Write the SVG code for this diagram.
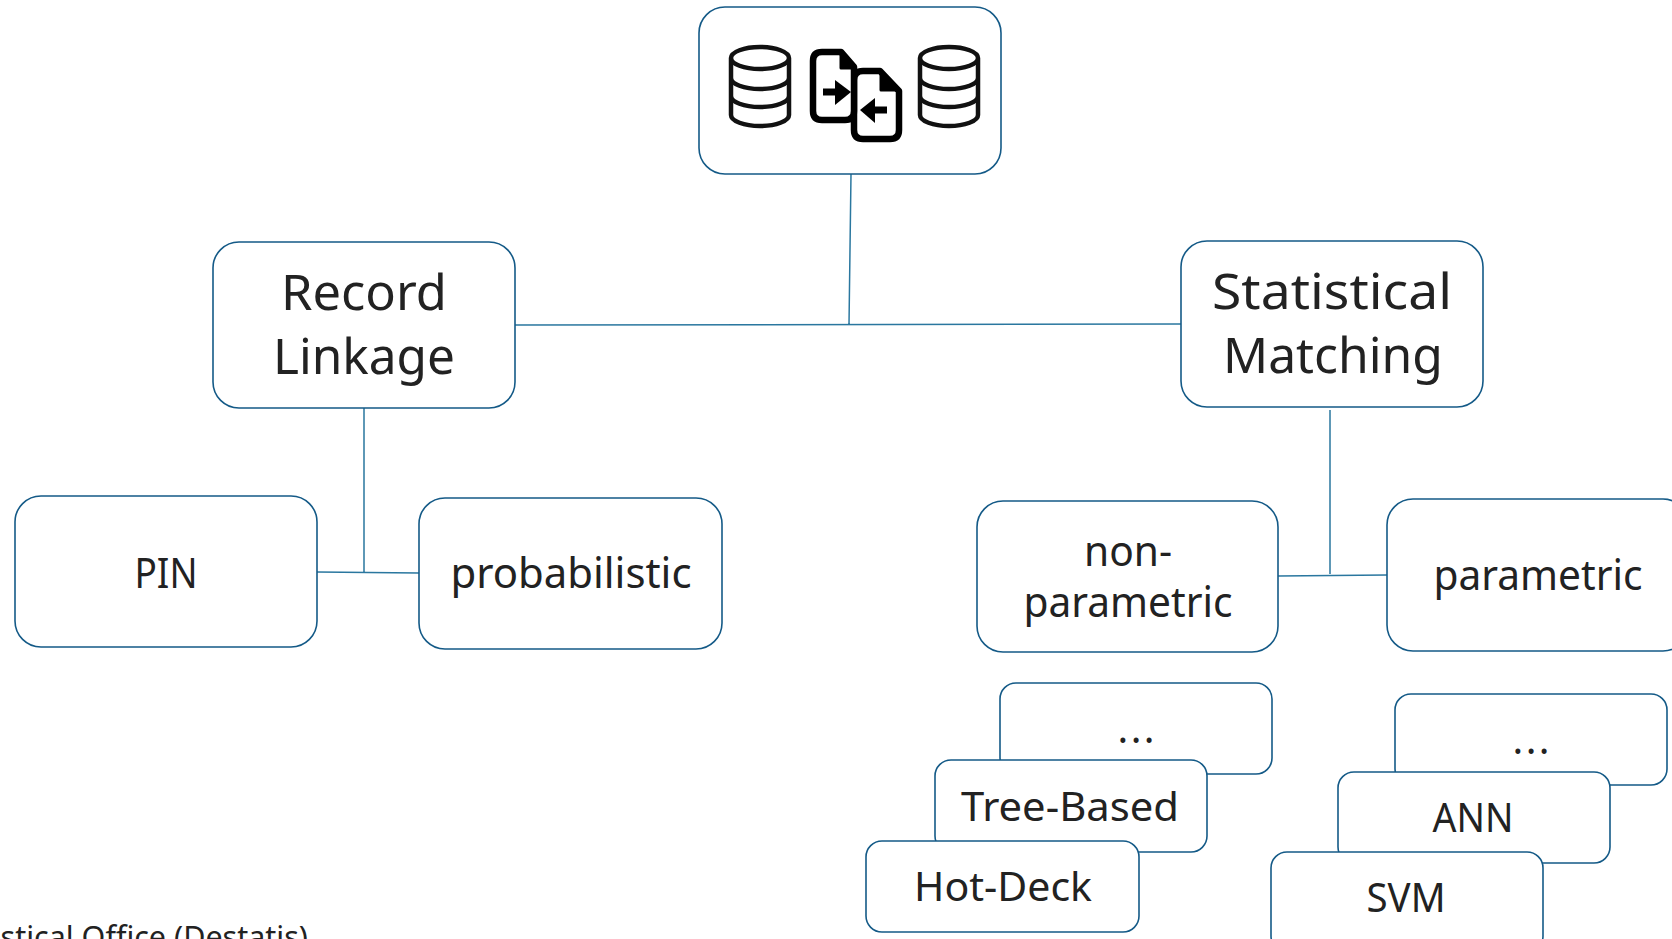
<svg xmlns="http://www.w3.org/2000/svg" width="1672" height="939" viewBox="0 0 1672 939">
<defs>
<style>
text{font-family:"Noto Sans","Open Sans","Liberation Sans",sans-serif;fill:#222;text-anchor:middle}
.b{fill:#fff;stroke:#145a87;stroke-width:1.6}
.c{fill:none;stroke:#2a779f;stroke-width:1.5}
.l{font-size:50px}.m{font-size:42px}.s{font-size:40px}
.d{fill:#fff;stroke:#000;stroke-width:6.5;stroke-linejoin:round}
.f{fill:#000;stroke:#000;stroke-width:3;stroke-linejoin:round}
.i{fill:none;stroke:#111;stroke-linejoin:round}
</style>
<g id="db"><path class="i" stroke-width="4.5" d="M-29 13V70C-29 76-16 81 0 81S29 76 29 70V13M-29 13C-29 7-16 2 0 2S29 7 29 13S16 24 0 24S-29 19-29 13ZM-29 33C-29 39-16 44 0 44S29 39 29 33M-29 51C-29 57-16 62 0 62S29 57 29 51"/></g>
</defs>
<g id="connectors">
<path class="c" d="M851 174L849 325M515 325L1181 324M364 408V572M317 572L419 573M1330 410V574M1278 576L1387 575"/>
</g>
<g id="node-top"><rect class="b" x="699" y="7" width="302" height="167" rx="26"/>
<use href="#db" x="760" y="45"/><use href="#db" x="949" y="45"/>
<path class="d" d="M863 71H880L899 91V130Q899 139 890 139H863Q854 139 854 130V80Q854 71 863 71Z"/>
<path class="f" d="M881 71V90H899Z"/>
<path class="d" d="M822 52H841L854 67V111Q854 120 845 120H822Q813 120 813 111V61Q813 52 822 52Z"/>
<path class="f" d="M841 52V68H854Z"/>
<path d="M823 92H838" stroke="#000" stroke-width="7"/><path d="M835 80L851 92L835 105Z" fill="#000"/>
<path d="M872 110H887" stroke="#000" stroke-width="7"/><path d="M875 98L860 110L875 123Z" fill="#000"/>
</g>
<g id="node-record"><rect class="b" x="213" y="242" width="302" height="166" rx="26"/><text class="l" x="364" y="310" textLength="166" lengthAdjust="spacingAndGlyphs">Record</text><text class="l" x="364" y="374" textLength="182" lengthAdjust="spacingAndGlyphs">Linkage</text></g>
<g id="node-statistical"><rect class="b" x="1181" y="241" width="302" height="166" rx="26"/><text class="l" x="1332" y="309" textLength="240" lengthAdjust="spacingAndGlyphs">Statistical</text><text class="l" x="1333" y="373" textLength="220" lengthAdjust="spacingAndGlyphs">Matching</text></g>
<g id="node-pin"><rect class="b" x="15" y="496" width="302" height="151" rx="26"/><text class="m" x="166" y="588" textLength="63" lengthAdjust="spacingAndGlyphs">PIN</text></g>
<g id="node-probabilistic"><rect class="b" x="419" y="498" width="303" height="151" rx="26"/><text class="m" x="571" y="588" textLength="241" lengthAdjust="spacingAndGlyphs">probabilistic</text></g>
<g id="node-nonparametric"><rect class="b" x="977" y="501" width="301" height="151" rx="26"/><text class="m" x="1128" y="566" textLength="88" lengthAdjust="spacingAndGlyphs">non-</text><text class="m" x="1128" y="617" textLength="209" lengthAdjust="spacingAndGlyphs">parametric</text></g>
<g id="node-parametric"><rect class="b" x="1387" y="499" width="302" height="152" rx="26"/><text class="m" x="1538" y="590" textLength="209" lengthAdjust="spacingAndGlyphs">parametric</text></g>
<g id="node-dots-left"><rect class="b" x="1000" y="683" width="272" height="91" rx="16"/><text class="s" x="1136" y="743" textLength="37">...</text></g>
<g id="node-tree"><rect class="b" x="935" y="760" width="272" height="92" rx="16"/><text class="s" x="1070" y="821" textLength="218" lengthAdjust="spacingAndGlyphs">Tree-Based</text></g>
<g id="node-hotdeck"><rect class="b" x="866" y="841" width="273" height="91" rx="16"/><text class="s" x="1003" y="901" textLength="178" lengthAdjust="spacingAndGlyphs">Hot-Deck</text></g>
<g id="node-dots-right"><rect class="b" x="1395" y="694" width="272" height="91" rx="16"/><text class="s" x="1531" y="754" textLength="37">...</text></g>
<g id="node-ann"><rect class="b" x="1338" y="772" width="272" height="91" rx="16"/><text class="s" x="1473" y="832" textLength="81" lengthAdjust="spacingAndGlyphs">ANN</text></g>
<g id="node-svm"><rect class="b" x="1271" y="852" width="272" height="100" rx="16"/><text class="s" x="1406" y="912" textLength="79" lengthAdjust="spacingAndGlyphs">SVM</text></g>
<text x="308" y="948" font-size="30.5" style="text-anchor:end">Federal Statistical Office (Destatis)</text>
</svg>
